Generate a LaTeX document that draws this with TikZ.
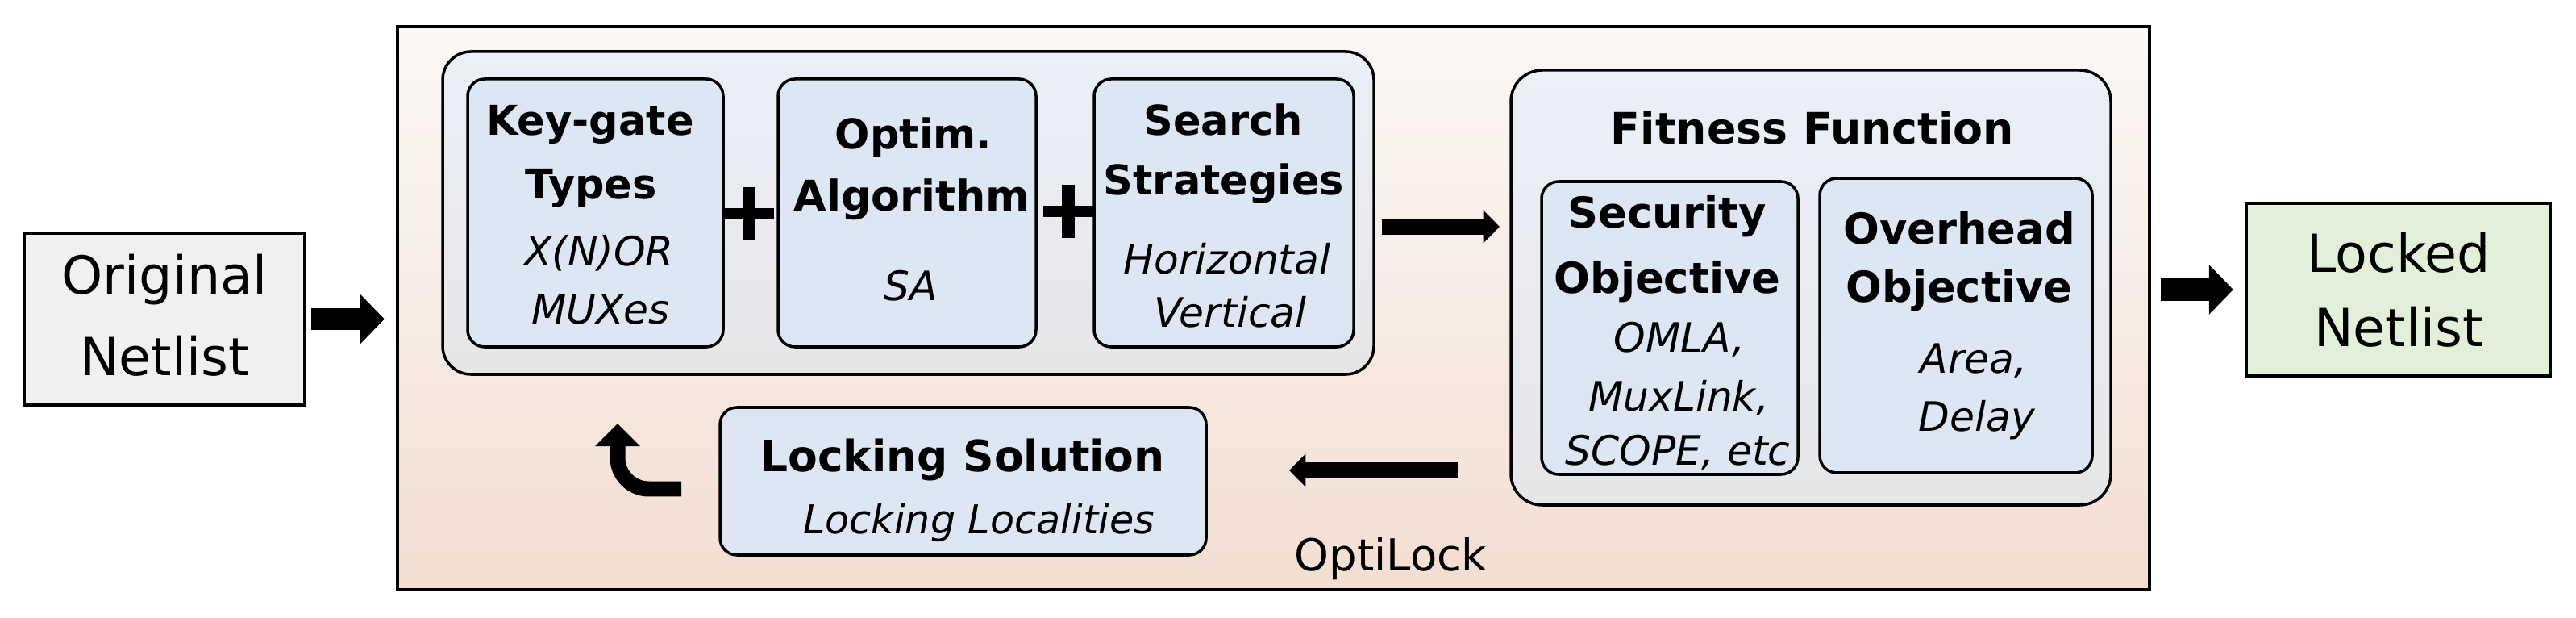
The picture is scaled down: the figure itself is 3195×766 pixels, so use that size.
\documentclass[tikz,border=0pt]{standalone}
\usepackage{fontspec}
\setmainfont{DejaVu Sans}
\usetikzlibrary{arrows.meta,fit}
\definecolor{origfill}{HTML}{F0F0F0}
\definecolor{lockfill}{HTML}{E2F0D9}
\definecolor{outtop}{HTML}{FBF8F6}
\definecolor{outbot}{HTML}{F3DED1}
\definecolor{grptop}{HTML}{EBEFF7}
\definecolor{grpbot}{HTML}{E6E6E8}
\definecolor{ibfill}{HTML}{DDE7F3}
\begin{document}
\begin{tikzpicture}[x=0.2845pt,y=-0.2845pt,
  plainbox/.style={draw, line width=1pt, inner sep=0pt, outer sep=0pt},
  outerbox/.style={plainbox, line width=1.1pt, top color=outtop, bottom color=outbot},
  grpbox/.style={plainbox, rounded corners=10pt, top color=grptop, bottom color=grpbot},
  ibox/.style={plainbox, rounded corners=6pt, fill=ibfill},
  tb/.style={anchor=base, inner sep=0pt, font=\fontsize{14.5}{17}\selectfont\bfseries},
  ti/.style={anchor=base, inner sep=0pt, font=\fontsize{14.3}{17}\selectfont\itshape},
  tr/.style={anchor=base, inner sep=0pt, font=\fontsize{18.5}{22}\selectfont},
  tl/.style={anchor=base, inner sep=0pt, font=\fontsize{15.5}{18}\selectfont},
  blockarrow/.style={line width=7.7pt, -{Triangle[length=8.5pt,width=17pt]}},
  thinarrow/.style={line width=5.7pt, -{Triangle[length=5.8pt,width=11.4pt]}},
  loopar/.style={line width=5.4pt, rounded corners=11pt, -{Triangle[length=8pt,width=15.4pt]}},
  plusn/.style={inner sep=0pt, outer sep=0pt, minimum width=17.8pt, minimum height=19pt}
]
\useasboundingbox (0,0) rectangle (3195,766);
\fill[white] (0,0) rectangle (3195,766);

% boxes
\node[outerbox, fit={(493,33) (2666,731)}] (outer) {};
\node[plainbox, fill=origfill, fit={(30,289) (378,502)}] (orig) {};
\node[plainbox, fill=lockfill, fit={(2786,252) (3163,466)}] (locked) {};
\node[grpbox, fit={(549,64) (1704,464)}] (grp) {};
\node[grpbox, rounded corners=11pt, fit={(1874,87) (2618,626)}] (fit) {};
\node[ibox, fit={(580,98) (897,430)}] (kg) {};
\node[ibox, fit={(965,98) (1285,430)}] (op) {};
\node[ibox, fit={(1357,98) (1679,430)}] (ss) {};
\node[ibox, fit={(1912,225) (2230,588)}] (sec) {};
\node[ibox, fit={(2257,221) (2595,586)}] (ov) {};
\node[ibox, fit={(893,505) (1496,688)}] (ls) {};

% texts
\node[tr] (orig1) at (204,365) {Original};
\node[tr] (orig2) at (204,466) {Netlist};
\node[tr] (lock1) at (2975,338) {Locked};
\node[tr] (lock2) at (2975,430) {Netlist};

\node[tb] (kg1) at (732,168) {Key-gate};
\node[tb] (kg2) at (733,247) {Types};
\node[ti] (kg3) at (743,330) {X(N)OR};
\node[ti] (kg4) at (745,402) {MUXes};

\node[tb] (op1) at (1133,185) {Optim.};
\node[tb] (op2) at (1131,262) {\fontsize{14.9}{17}\selectfont Algorithm};
\node[ti] (op3) at (1130,373) {SA};

\node[tb] (ss1) at (1517,168) {Search};
\node[tb] (ss2) at (1518,242) {Strategies};
\node[ti] (ss3) at (1522,340) {Horizontal};
\node[ti] (ss4) at (1526,406) {Vertical};

\node[tb] (fit1) at (2248,179) {\fontsize{15.3}{17}\selectfont Fitness Function};

\node[tb] (sec1) at (2068,283) {\fontsize{15}{17}\selectfont Security};
\node[tb] (sec2) at (2068,364) {\fontsize{15}{17}\selectfont Objective};
\node[ti] (sec3) at (2083,437) {OMLA,};
\node[ti] (sec4) at (2082,510) {MuxLink,};
\node[ti] (sec5) at (2081,577) {SCOPE, etc};

\node[tb] (ov1) at (2430,303) {\fontsize{15}{17}\selectfont Overhead};
\node[tb] (ov2) at (2430,375) {\fontsize{15}{17}\selectfont Objective};
\node[ti] (ov3) at (2448,463) {Area,};
\node[ti] (ov4) at (2452,535) {Delay};

\node[tb] (ls1) at (1194,585) {\fontsize{15.2}{17}\selectfont Locking Solution};
\node[ti] (ls2) at (1214,662) {\fontsize{14}{17}\selectfont Locking Localities};

\node[tl] (opti) at (1725,707) {OptiLock};

% plus signs
\node[plusn] (p1) at (929,265) {};
\node[plusn] (p2) at (1325,262) {};
\foreach \p in {p1,p2}{
  \fill ([xshift=-2.2pt]\p.north) rectangle ([xshift=2.2pt]\p.south);
  \fill ([yshift=1.9pt]\p.west) rectangle ([yshift=-1.9pt]\p.east);
}

% arrows
\coordinate (ra) at (0,281);
\coordinate (la) at (0,583);
\coordinate (loopA) at (845,606);
\coordinate (loopB) at (766,525);
\draw[blockarrow, shorten <=2.3pt, shorten >=4.6pt] (orig.east) -- (orig.east -| outer.west);
\draw[blockarrow, shorten <=4pt, shorten >=4.6pt] (locked.west -| outer.east) -- (locked.west);
\draw[thinarrow, shorten <=2.8pt, shorten >=4pt] (grp.east |- ra) -- (fit.west |- ra);
\draw[thinarrow, shorten <=18.8pt, shorten >=29.3pt] (fit.west |- la) -- (ls.east |- la);
\draw[loopar] (loopA) -| (loopB);
\end{tikzpicture}
\end{document}
